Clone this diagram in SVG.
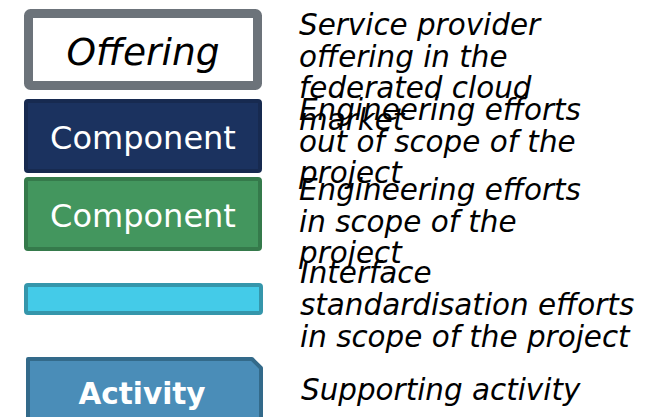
<svg xmlns="http://www.w3.org/2000/svg" width="661" height="417" viewBox="0 0 661 417">
<style>
.desc{font-family:"DejaVu Sans",sans-serif;font-style:italic;font-size:29.4px;fill:#000}
.lbl{font-family:"DejaVu Sans",sans-serif;font-size:32px;fill:#fff;text-anchor:middle}
</style>
<rect width="661" height="417" fill="#fff"/>
<g id="offering">
<rect x="28.5" y="13.5" width="229" height="72" rx="2" fill="#fff" stroke="#6c737a" stroke-width="9"/>
<text x="143" y="65" font-family="DejaVu Sans, sans-serif" font-style="italic" font-size="37.5" text-anchor="middle" fill="#000">Offering</text>
</g>
<g id="component-out">
<rect x="26" y="101" width="234" height="70" rx="2" fill="#1b325f" stroke="#172a50" stroke-width="4"/>
<text class="lbl" x="143" y="149">Component</text>
</g>
<g id="component-in">
<rect x="26" y="179" width="234" height="70" rx="2" fill="#43965e" stroke="#357a4b" stroke-width="4"/>
<text class="lbl" x="143" y="227">Component</text>
</g>
<g id="interface">
<rect x="26" y="285" width="235" height="28" rx="2" fill="#44cbe8" stroke="#3596ab" stroke-width="4"/>
</g>
<g id="activity">
<path d="M28 420 V359 H252 L261 368 V420" fill="#4a8db8" stroke="#336a8a" stroke-width="4" stroke-linejoin="round"/>
<text x="142" y="404" font-family="DejaVu Sans, sans-serif" font-weight="bold" font-size="29.5" text-anchor="middle" fill="#fff">Activity</text>
</g>
<g id="descriptions">
<text class="desc" x="299" y="35">Service provider</text>
<text class="desc" x="299" y="67">offering in the</text>
<text class="desc" x="299" y="98">federated cloud</text>
<text class="desc" x="299" y="130">market</text>
<text class="desc" x="299" y="120">Engineering efforts</text>
<text class="desc" x="299" y="152">out of scope of the</text>
<text class="desc" x="299" y="183">project</text>
<text class="desc" x="299" y="200">Engineering efforts</text>
<text class="desc" x="299" y="232">in scope of the</text>
<text class="desc" x="299" y="263">project</text>
<text class="desc" x="300" y="283">Interface</text>
<text class="desc" x="300" y="315">standardisation efforts</text>
<text class="desc" x="300" y="347">in scope of the project</text>
<text class="desc" x="301" y="400">Supporting activity</text>
</g>
</svg>
